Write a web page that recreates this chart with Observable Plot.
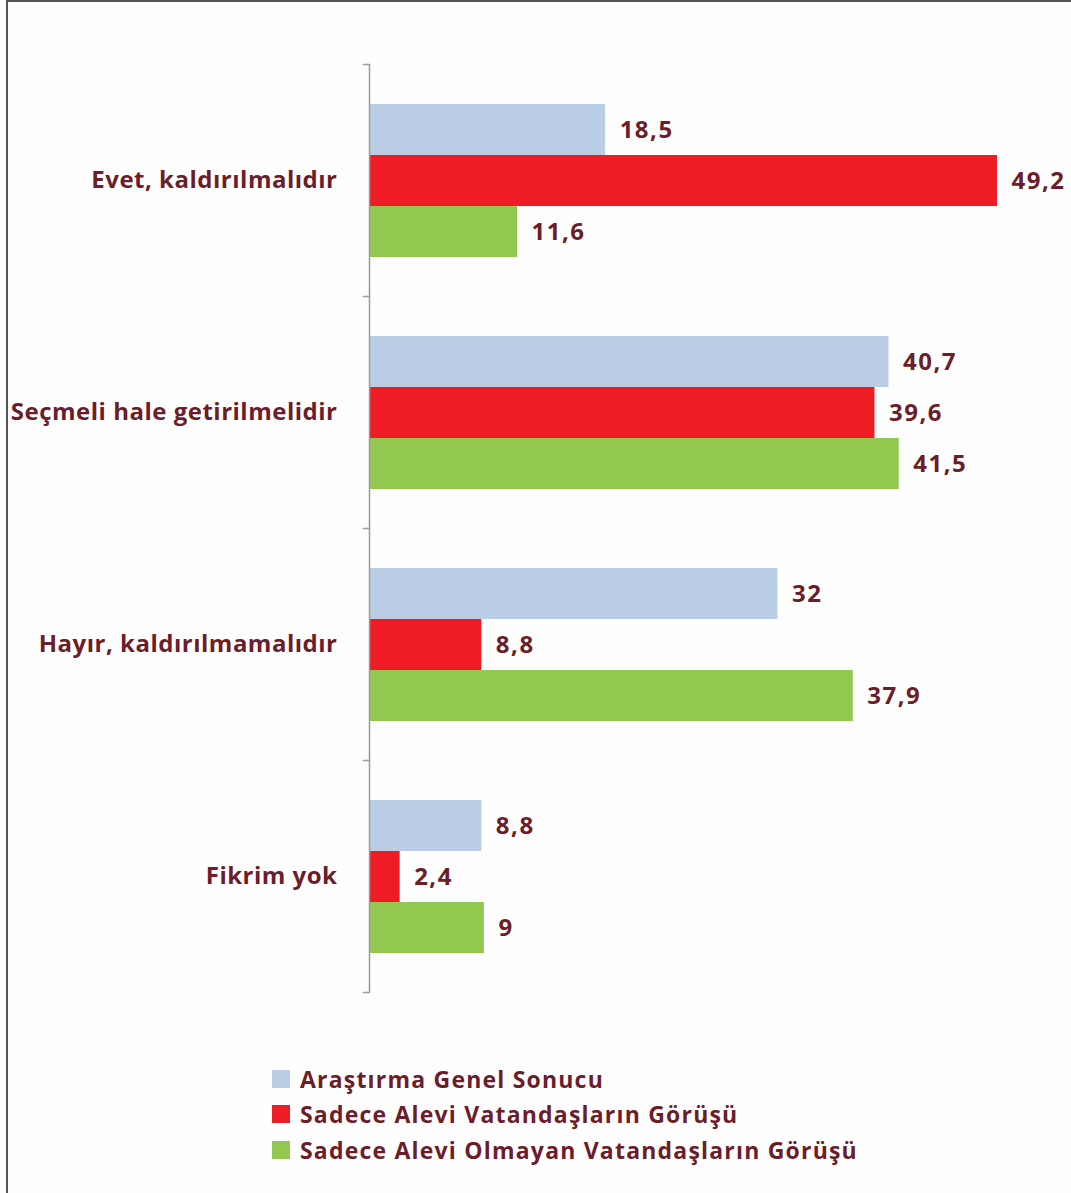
<!DOCTYPE html>
<html><head><meta charset="utf-8">
<script src="https://cdn.jsdelivr.net/npm/d3@7"></script>
<script src="https://cdn.jsdelivr.net/npm/@observablehq/plot@0.6"></script>
<style>
body{margin:0;background:#fff;}
#wrap{position:relative;width:1071px;height:1193px;overflow:hidden;background:#fefefe;}
#frame{position:absolute;left:6px;top:0;width:1100px;height:1250px;border-top:2px solid #555;border-left:2px solid #555;pointer-events:none;}
#chart{position:absolute;left:0;top:0;}
#legend{position:absolute;left:272px;top:1061px;font-family:"Open Sans",sans-serif;font-weight:bold;font-size:23px;color:#6b1d2a;letter-spacing:1.2px;}
.item{display:flex;align-items:center;height:35.5px;}
.sw{width:18px;height:18px;margin-right:10px;flex:none;}
</style>
</head><body>
<div id="wrap"><div id="chart"></div><div id="legend"></div><div id="frame"></div></div>
<script>
const categories = ["Evet, kaldırılmalıdır", "Seçmeli hale getirilmelidir", "Hayır, kaldırılmamalıdır", "Fikrim yok"];
const seriesNames = ["Araştırma Genel Sonucu", "Sadece Alevi Vatandaşların Görüşü", "Sadece Alevi Olmayan Vatandaşların Görüşü"];
const genelSonuc = [18.5, 40.7, 32, 8.8];
const aleviGorus = [49.2, 39.6, 8.8, 2.4];
const aleviOlmayanGorus = [11.6, 41.5, 37.9, 9];
const colors = ["#b9cde5", "#ee1c25", "#92c850"];

const seriesValues = [genelSonuc, aleviGorus, aleviOlmayanGorus];
const data = [];
categories.forEach((c, i) => seriesNames.forEach((s, j) => data.push({category: c, series: s, value: seriesValues[j][i]})));

const textColor = "#6b1d2a";
const font = "'Open Sans', sans-serif";
const tickShape = {draw(ctx, l) { ctx.moveTo(0, 0); ctx.lineTo(0, -l); }};

const chart = Plot.plot({
  width: 1071, height: 1010,
  marginTop: 63, marginBottom: 17, marginLeft: 369, marginRight: 74,
  style: {fontFamily: font, background: "transparent"},
  x: {domain: [0, d3.max(data, d => d.value)], axis: null},
  y: {domain: seriesNames, axis: null, paddingInner: 0, paddingOuter: 0.7356},
  fy: {domain: categories, axis: null, padding: 0},
  color: {domain: seriesNames, range: colors},
  marks: [
    Plot.barX(data, {x: "value", y: "series", fy: "category", fill: "series"}),
    Plot.ruleX([0], {stroke: "#9a9a9a", strokeWidth: 1.5}),
    Plot.vector([0], {frameAnchor: "top-left", length: 6, rotate: -90, anchor: "start", shape: tickShape, stroke: "#9a9a9a", strokeWidth: 1.5}),
    Plot.vector([categories[categories.length - 1]], {fy: d => d, frameAnchor: "bottom-left", length: 6, rotate: -90, anchor: "start", shape: tickShape, stroke: "#9a9a9a", strokeWidth: 1.5}),
    Plot.text(data, {x: "value", y: "series", fy: "category", text: d => String(d.value).replace(".", ","), dx: 14, textAnchor: "start", fontSize: 24, fontWeight: "bold", fill: textColor}),
    Plot.text(categories, {fy: d => d, text: d => d, frameAnchor: "left", dx: -32, textAnchor: "end", fontSize: 24, fontWeight: "bold", fill: textColor})
  ]
});
document.getElementById("chart").appendChild(chart);
chart.querySelectorAll("text").forEach(t => {
  t.style.letterSpacing = /^[0-9,]+$/.test(t.textContent) ? "1.5px" : "0.5px";
});

const legend = document.getElementById("legend");
seriesNames.forEach((s, j) => {
  const row = document.createElement("div");
  row.className = "item";
  const sw = document.createElement("span");
  sw.className = "sw";
  sw.style.background = colors[j];
  const t = document.createElement("span");
  t.textContent = s;
  row.appendChild(sw); row.appendChild(t);
  legend.appendChild(row);
});
</script>
</body></html>
